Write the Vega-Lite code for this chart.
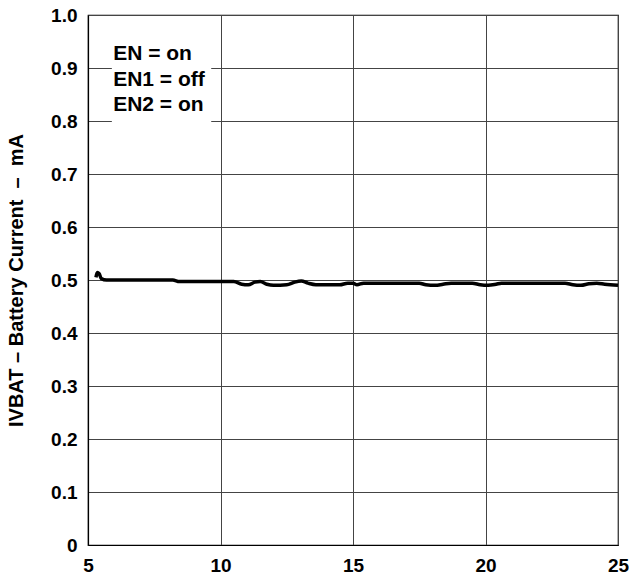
{
  "$schema": "https://vega.github.io/schema/vega-lite/v6.json",
  "width": 530,
  "height": 530,
  "autosize": {"type": "none"},
  "padding": {"left": 88, "top": 15, "right": 14, "bottom": 35},
  "background": "white",
  "config": {
    "view": {"stroke": "black", "strokeWidth": 1.2},
    "font": "Liberation Sans",
    "axis": {
      "domainColor": "black",
      "domainWidth": 1.2,
      "gridColor": "#444444",
      "gridWidth": 1,
      "gridOpacity": 1,
      "ticks": false,
      "labelFont": "Liberation Sans",
      "labelFontWeight": "bold",
      "labelFontSize": 19,
      "labelColor": "black",
      "titleFont": "Liberation Sans",
      "titleFontWeight": "bold",
      "titleFontSize": 20,
      "titleColor": "black"
    }
  },
  "layer": [
    {
      "data": {"values": [{"x": 5.9, "x2": 9.65, "y": 0.795, "y2": 0.955}]},
      "mark": {"type": "rect", "fill": "white", "stroke": null},
      "encoding": {
        "x": {"field": "x", "type": "quantitative", "scale": {"domain": [5, 25], "nice": false},
          "axis": {"values": [5, 10, 15, 20, 25], "title": null, "labelPadding": 11, "grid": true, "labelFlush": false}},
        "x2": {"field": "x2"},
        "y": {"field": "y", "type": "quantitative", "scale": {"domain": [0, 1], "nice": false},
          "axis": {"values": [0, 0.1, 0.2, 0.3, 0.4, 0.5, 0.6, 0.7, 0.8, 0.9, 1.0],
            "labelExpr": "datum.value == 0 ? '0' : format(datum.value, '.1f')",
            "title": "IVBAT – Battery Current \u00a0– \u00a0mA", "titlePadding": 24, "labelPadding": 11, "grid": true}},
        "y2": {"field": "y2"}
      }
    },
    {
      "data": {"values": [
        {"label": "EN = on", "x": 5.95, "y": 0.926},
        {"label": "EN1 = off", "x": 5.95, "y": 0.878},
        {"label": "EN2 = on", "x": 5.95, "y": 0.831}
      ]},
      "mark": {"type": "text", "align": "left", "baseline": "middle", "font": "Liberation Sans", "fontWeight": "bold", "fontSize": 21, "color": "black"},
      "encoding": {
        "x": {"field": "x", "type": "quantitative"},
        "y": {"field": "y", "type": "quantitative"},
        "text": {"field": "label"}
      }
    },
    {
      "data": {"values": [
        {"x": 5.3, "y": 0.505},
        {"x": 5.35, "y": 0.514},
        {"x": 5.42, "y": 0.512},
        {"x": 5.5, "y": 0.503},
        {"x": 5.7, "y": 0.5},
        {"x": 8.2, "y": 0.5},
        {"x": 8.45, "y": 0.497},
        {"x": 10.5, "y": 0.497},
        {"x": 10.8, "y": 0.492},
        {"x": 11.05, "y": 0.491},
        {"x": 11.3, "y": 0.496},
        {"x": 11.5, "y": 0.497},
        {"x": 11.75, "y": 0.492},
        {"x": 12.0, "y": 0.49},
        {"x": 12.5, "y": 0.491},
        {"x": 12.8, "y": 0.496},
        {"x": 13.05, "y": 0.498},
        {"x": 13.3, "y": 0.494},
        {"x": 13.6, "y": 0.491},
        {"x": 14.5, "y": 0.491},
        {"x": 14.8, "y": 0.494},
        {"x": 15.0, "y": 0.494},
        {"x": 15.15, "y": 0.491},
        {"x": 15.4, "y": 0.494},
        {"x": 17.5, "y": 0.494},
        {"x": 17.75, "y": 0.491},
        {"x": 18.1, "y": 0.49},
        {"x": 18.4, "y": 0.492},
        {"x": 18.7, "y": 0.494},
        {"x": 19.5, "y": 0.494},
        {"x": 19.8, "y": 0.491},
        {"x": 20.1, "y": 0.49},
        {"x": 20.4, "y": 0.492},
        {"x": 20.6, "y": 0.494},
        {"x": 23.0, "y": 0.494},
        {"x": 23.3, "y": 0.491},
        {"x": 23.6, "y": 0.49},
        {"x": 23.9, "y": 0.493},
        {"x": 24.2, "y": 0.494},
        {"x": 24.5, "y": 0.492},
        {"x": 25.0, "y": 0.49}
      ]},
      "mark": {"type": "line", "color": "black", "strokeWidth": 3.5, "interpolate": "monotone"},
      "encoding": {
        "x": {"field": "x", "type": "quantitative"},
        "y": {"field": "y", "type": "quantitative"}
      }
    }
  ]
}
